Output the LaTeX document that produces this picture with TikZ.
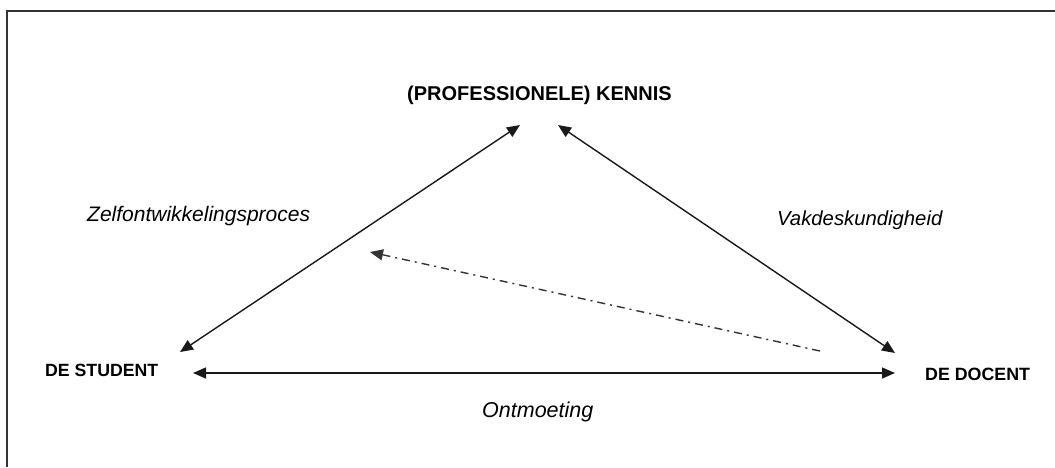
\documentclass[tikz,border=0pt]{standalone}
\usepackage{fontspec}
\setmainfont{Liberation Sans}
\usetikzlibrary{arrows.meta}
\begin{document}
\begin{tikzpicture}[x=1pt,y=1pt,
  >={Triangle[length=13pt,width=11pt]},
  lbl/.style={inner sep=0pt, anchor=base west, font=\bfseries},
  note/.style={inner sep=0pt, anchor=base west, font=\itshape},
  link/.style={line width=1.4pt, draw=black!90},
  hint/.style={line width=1.4pt, draw=black!80,
    dash pattern=on 8pt off 5pt on 2pt off 5pt}]
  \useasboundingbox (0,0) rectangle (1055,-467);
  % open frame along the top and left edges
  \draw[line width=2pt, black!80] (6.5,-467) -- (6.5,-10.5) -- (1055,-10.5);

  % corners of the triangle
  \node[lbl, font=\bfseries\fontsize{20}{24}\selectfont] (kennis) at (407,-100) {(PROFESSIONELE) KENNIS};
  \node[lbl, font=\bfseries\fontsize{17.7}{21}\selectfont] (student) at (45,-376.5) {DE STUDENT};
  \node[lbl, font=\bfseries\fontsize{17.8}{21}\selectfont] (docent) at (925,-380) {DE DOCENT};

  % edge labels
  \node[note, font=\itshape\fontsize{21}{25}\selectfont] (zelf) at (87,-221.5) {Zelfontwikkelingsproces};
  \node[note, font=\itshape\fontsize{20.3}{24}\selectfont] (vak) at (777,-225) {Vakdeskundigheid};
  \node[note, font=\itshape\fontsize{21.5}{25}\selectfont] (ont) at (482,-417) {Ontmoeting};

  % arrow ends around the corners
  \coordinate (kL) at ([shift={(113,-25)}]kennis.base west);
  \coordinate (kR) at ([shift={(151,-25)}]kennis.base west);
  \coordinate (kD) at ([shift={(-37,-152)}]kennis.base west);
  \coordinate (sD) at ([shift={(135,24.5)}]student.base west);
  \coordinate (sH) at ([shift={(148,3.5)}]student.base west);
  \coordinate (dD) at ([shift={(-30,27)}]docent.base west);
  \coordinate (dH) at ([shift={(-30,7)}]docent.base west);
  \coordinate (dT) at ([shift={(-105,29)}]docent.base west);

  \draw[link, <->] (sD) -- (kL);
  \draw[link, <->] (kR) -- (dD);
  \draw[link, <->] (sH) -- (dH);
  \draw[hint, ->] (dT) -- (kD);
\end{tikzpicture}
\end{document}
